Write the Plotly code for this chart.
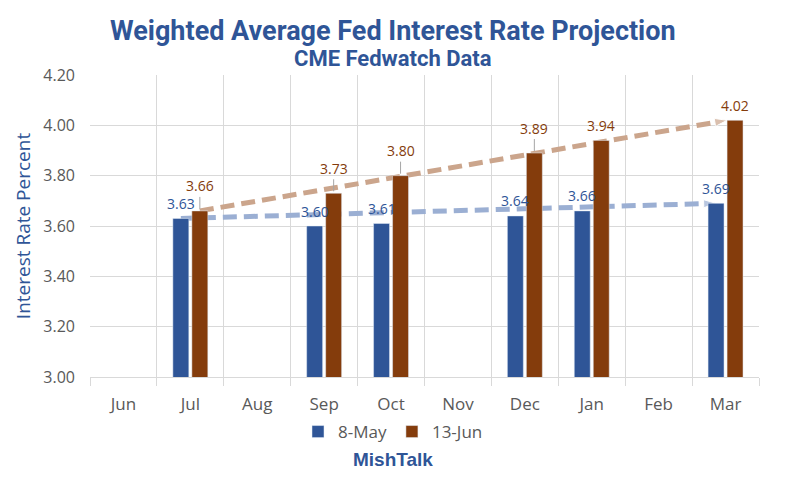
import plotly.graph_objects as go

# ---- data ----
months = ["Jun", "Jul", "Aug", "Sep", "Oct", "Nov", "Dec", "Jan", "Feb", "Mar"]
may8 = [None, 3.63, None, 3.60, 3.61, None, 3.64, 3.66, None, 3.69]
jun13 = [None, 3.66, None, 3.73, 3.80, None, 3.89, 3.94, None, 4.02]
series_names = ["8-May", "13-Jun"]
y_ticks = [3.00, 3.20, 3.40, 3.60, 3.80, 4.00, 4.20]
jun13_leader = [False, True, False, True, True, False, True, False, False, False]

# ---- style ----
BLUE = "#2F5597"
BROWN = "#843C0C"
BLUE_LINE = "#9BAFD3"
BROWN_LINE = "#CBA58C"
GRID = "#D9D9D9"
TXT = "#595959"
NARROW = "Liberation Sans Narrow, Arial Narrow, Roboto, sans-serif"
BODY = "Open Sans, sans-serif"

BARGAP = 0.432
GROUPGAP = 0.16
slot = (1 - BARGAP) / 2
barw = slot * (1 - GROUPGAP)
off_blue = -slot / 2
off_brown = slot / 2

idx = list(range(len(months)))


def pts(vals):
    return [(i, v) for i, v in zip(idx, vals) if v is not None]


fig = go.Figure()

# trend arrows (base axes -> drawn beneath the bars)
pb = pts(may8)
fig.add_trace(go.Scatter(
    x=[pb[0][0] + off_blue, pb[-1][0] + off_blue],
    y=[pb[0][1], pb[-1][1]],
    mode="lines+markers",
    line=dict(color=BLUE_LINE, width=5, dash="14px,7px"),
    marker=dict(symbol="arrow", angleref="previous", size=[0, 13], color=BLUE_LINE),
    showlegend=False, hoverinfo="skip", xaxis="x", yaxis="y"))
pr = pts(jun13)
fig.add_trace(go.Scatter(
    x=[pr[0][0] + off_brown, pr[-1][0] + off_brown - barw / 2],
    y=[pr[0][1], pr[-1][1]],
    mode="lines+markers",
    line=dict(color=BROWN_LINE, width=5, dash="14px,7px"),
    marker=dict(symbol="arrow", angleref="previous", size=[0, 13], color=BROWN_LINE),
    showlegend=False, hoverinfo="skip", xaxis="x", yaxis="y"))

# bars on overlay axes
fig.add_trace(go.Bar(x=idx, y=may8, name=series_names[0], marker_color=BLUE,
                     xaxis="x2", yaxis="y2"))
fig.add_trace(go.Bar(x=idx, y=jun13, name=series_names[1], marker_color=BROWN,
                     xaxis="x2", yaxis="y2"))

ann = []
for i, v in zip(idx, may8):
    if v is None:
        continue
    ann.append(dict(x=i + off_blue, y=v, xref="x2", yref="y2", text=f"{v:.2f}",
                    showarrow=False, yshift=15, yanchor="middle",
                    font=dict(family=BODY, size=14, color=BLUE)))
for i, v, lead in zip(idx, jun13, jun13_leader):
    if v is None:
        continue
    if lead:
        ann.append(dict(x=i + off_brown, y=v, xref="x2", yref="y2", text=f"{v:.2f}",
                        showarrow=True, arrowhead=0, arrowwidth=1, arrowcolor="#A6A6A6",
                        ax=0, ay=-25, standoff=2,
                        font=dict(family=BODY, size=14, color=BROWN)))
    else:
        ann.append(dict(x=i + off_brown, y=v, xref="x2", yref="y2", text=f"{v:.2f}",
                        showarrow=False, yshift=15, yanchor="middle",
                        font=dict(family=BODY, size=14, color=BROWN)))

# titles
ann.append(dict(x=0.4529, y=1.146, xref="paper", yref="paper", showarrow=False,
                text="<b>Weighted Average Fed Interest Rate Projection</b>",
                yanchor="middle", font=dict(family=NARROW, size=27, color=BLUE)))
ann.append(dict(x=0.4529, y=1.056, xref="paper", yref="paper", showarrow=False,
                text="<b>CME Fedwatch Data</b>",
                yanchor="middle", font=dict(family=NARROW, size=22, color=BLUE)))
ann.append(dict(x=0.4529, y=-0.2748, xref="paper", yref="paper", showarrow=False,
                text="<b>MishTalk</b>",
                yanchor="middle", font=dict(family="Liberation Sans, Arial, sans-serif",
                                            size=19, color=BLUE)))

fig.update_layout(
    width=786, height=492, autosize=False,
    margin=dict(l=90, r=27, t=75, b=115, autoexpand=False),
    paper_bgcolor="white", plot_bgcolor="white",
    barmode="group", bargap=BARGAP, bargroupgap=GROUPGAP,
    annotations=ann,
    legend=dict(orientation="h", xref="container", yref="container",
                x=0.5, xanchor="center", y=1 - 432 / 492, yanchor="middle",
                font=dict(family=BODY, size=17, color=TXT),
                itemwidth=30, tracegroupgap=0),
    xaxis=dict(range=[-0.5, 9.5], tickmode="array", tickvals=idx, ticktext=months,
               ticks="", showgrid=False, zeroline=False,
               showline=True, linecolor=GRID, linewidth=1,
               minor=dict(tick0=-0.5, dtick=1, showgrid=True, gridcolor=GRID,
                          ticks="outside", ticklen=8, tickcolor=GRID),
               tickfont=dict(family=BODY, size=17, color=TXT),
               ticklabelstandoff=12, fixedrange=True),
    yaxis=dict(range=[3.0, 4.2], tickmode="array", tickvals=y_ticks,
               tickformat=".2f", showgrid=True, gridcolor=GRID, zeroline=False,
               showline=False, ticks="",
               tickfont=dict(family=BODY, size=16, color=TXT),
               ticklabelstandoff=14,
               title=dict(text="Interest Rate Percent", standoff=7,
                          font=dict(family=BODY, size=19, color=BLUE))),
    xaxis2=dict(range=[-0.5, 9.5], overlaying="x", visible=False),
    yaxis2=dict(range=[3.0, 4.2], overlaying="y", visible=False),
)

fig.write_html("out.html")
